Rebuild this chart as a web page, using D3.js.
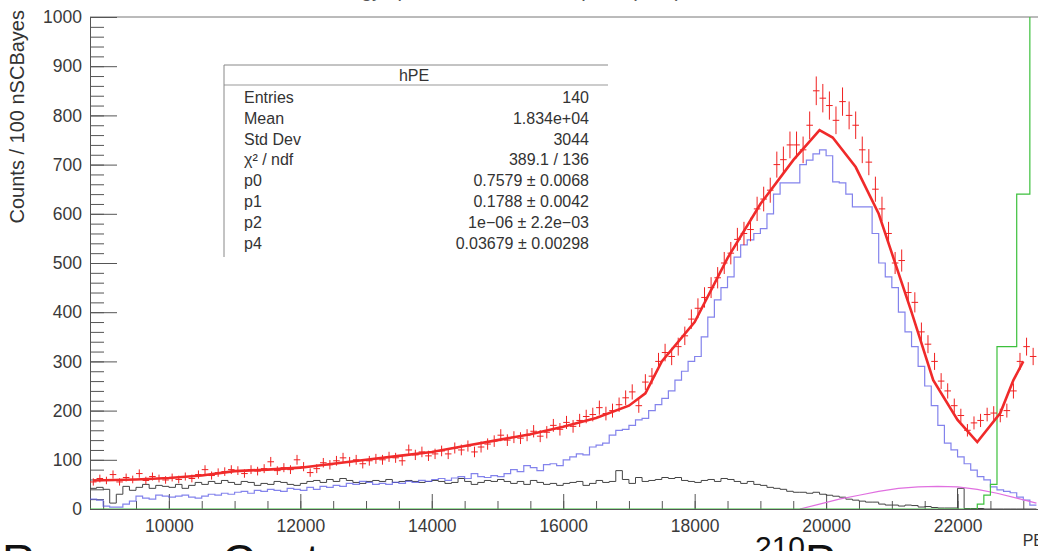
<html>
<head>
  <meta charset="utf-8">
  <title>hPE fit</title>
  <style type="text/css">
    body { margin: 0; background: #fff; }
    svg { display: block; font-family: "Liberation Sans", Arial, sans-serif; }
    .axis text { fill: #3a3a3a; font-size: 17.5px; }
    .axis line, .axis path { stroke: #555; stroke-width: 1; }
    .stat text { fill: #333; font-size: 16px; }
    .frame { fill: none; stroke: #777; stroke-width: 1; }
  </style>
</head>
<body>
<script src="https://d3js.org/d3.v7.min.js"></script>
<script>
  // bins are 100 PE wide, first one starts at 8800
  var binStarts = d3.range(8800, 23200, 100);
  var binWidth = 100;

  // red points (data)
  var dataCounts = [
    55, 62, 58, 70, 55, 64, 60, 72, 58, 66,
    62, 59, 64, 60, 66, 62, 70, 80, 68, 74,
    76, 80, 78, 72, 80, 77, 82, 96, 78, 84,
    80, 100, 86, 74, 82, 94, 90, 98, 104, 96,
    100, 92, 98, 102, 100, 106, 104, 98, 120, 110,
    116, 108, 112, 118, 112, 124, 120, 128, 116, 126,
    132, 138, 150, 140, 146, 144, 150, 158, 148, 156,
    170, 162, 176, 168, 180, 188, 192, 206, 194, 200,
    212, 226, 238, 210, 258, 270, 300, 318, 310, 330,
    352, 386, 408, 430, 450, 470, 500, 520, 548, 560,
    568, 610, 630, 648, 700, 710, 740, 740, 730, 780,
    850, 835, 820, 790, 828, 800, 780, 730, 705, 650,
    610, 560, 500, 505, 440, 420, 360, 335, 300, 260,
    240, 210, 190, 160, 175, 180, 192, 195, 190, 200,
    240, 300, 330, 310
  ];

  // blue: signal component
  var blueCounts = [
    20, 18, 6, 4, 4, 10, 16, 26, 22, 20,
    28, 26, 24, 26, 28, 24, 22, 26, 30, 28,
    32, 30, 34, 36, 32, 38, 36, 40, 38, 36,
    42, 40, 38, 44, 40, 46, 44, 48, 46, 52,
    50, 56, 54, 50, 52, 50, 54, 52, 56, 54,
    58, 56, 60, 62, 58, 63, 66, 62, 72, 66,
    64, 68, 66, 72, 80, 76, 88, 84, 78, 90,
    92, 88, 100, 106, 112, 110, 126, 130, 134, 150,
    160, 162, 170, 181, 184, 200, 212, 225, 240, 262,
    280, 300, 310, 350, 390, 425, 450, 472, 512, 537,
    547, 560, 570, 600, 640, 663, 663, 663, 700, 709,
    722, 730, 718, 665, 663, 640, 614, 614, 614, 560,
    500, 472, 450, 400, 360, 330, 290, 250, 210, 170,
    134, 120, 106, 92, 79, 66, 59, 45, 39, 36,
    33, 24, 18, 8
  ];

  // black: background component
  var blackCounts = [
    42, 44, 40, 12, 30, 46, 38, 44, 50, 42,
    48, 46, 44, 50, 42, 48, 54, 50, 56, 52,
    58, 54, 50, 56, 54, 48, 52, 50, 56, 54,
    50, 48, 52, 56, 58, 54, 60, 56, 62, 58,
    54, 52, 56, 58, 56, 60, 54, 56, 58, 56,
    54, 56, 58, 56, 52, 54, 62, 56, 50, 54,
    58, 56, 60, 56, 52, 56, 50, 58, 54, 50,
    52, 48, 52, 54, 56, 48, 52, 58, 54, 56,
    78, 60, 52, 64, 56, 58, 60, 64, 62, 64,
    58, 56, 54, 58, 60, 56, 62, 60, 56, 52,
    56, 50, 48, 44, 42, 40, 36, 34, 34, 32,
    34, 30, 28, 26, 24, 20, 18, 16, 14, 14,
    10, 8, 8, 6, 8, 7, 4, 5, 3, 2,
    2, 2, 42, 1, 1, 1, 0, 0, 0, 0,
    0, 0, 0, 0
  ];

  // green: first entry is one wide empty bin
  var greenLow = [8800, 22300, 22400, 22500, 22600, 22700, 22800, 22900, 23000, 23100];
  var greenCounts = [0, 10, 28, 50, 330, 330, 330, 640, 640, 1500];

  // magenta curve
  var pinkX = [19600, 19900, 20200, 20500, 20800, 21100, 21400, 21700, 22000, 22300, 22600, 22900, 23200];
  var pinkY = [0, 10, 20, 28, 36, 42, 45, 46, 45, 40, 32, 22, 12];

  // red fit curve
  var fitX = [8850, 9500, 10000, 10500, 11000, 11500, 12000, 12500, 13000, 13500, 14000, 14500,
    15000, 15500, 16000, 16500, 17000, 17250, 17500, 18000, 18500, 19000, 19500, 19900,
    20100, 20450, 20800, 21000, 21300, 21630, 22000, 22300, 22650, 22850, 23000];
  var fitY = [58, 60, 63, 68, 77, 80, 84, 92, 100, 108, 116, 128,
    140, 152, 167, 185, 210, 235, 300, 380, 510, 620, 709, 770,
    755, 695, 600, 520, 400, 262, 181, 136, 195, 262, 300];

  var statLabels = ["Entries", "Mean", "Std Dev", "\u03c7\u00b2 / ndf", "p0", "p1", "p2", "p4"];
  var statValues = ["140", "1.834e+04", "3044", "389.1 / 136", "0.7579 \u00b1 0.0068",
    "0.1788 \u00b1 0.0042", "1e\u221206 \u00b1 2.2e\u221203", "0.03679 \u00b1 0.00298"];

  var W = 1038, H = 551;
  var svg = d3.select("body").append("svg").attr("width", W).attr("height", H);

  var x = d3.scaleLinear().domain([8800, 23300]).range([90, 1043]);
  var y = d3.scaleLinear().domain([0, 1000]).range([509, 17]);

  svg.append("defs").append("clipPath").attr("id", "plot")
    .append("rect").attr("x", 90).attr("y", 17).attr("width", 953).attr("height", 492);

  // title, mostly above the page
  svg.append("text").attr("x", 500).attr("y", -3).attr("text-anchor", "middle")
    .attr("font-size", 20).attr("fill", "#555").text("Energy spectrum of the \u00b2\u00b9\u2070Po peak (hPE)");

  // frame top
  svg.append("line").attr("class", "frame")
    .attr("x1", 90).attr("x2", 1043).attr("y1", 17).attr("y2", 17);

  // y axis
  svg.append("g").attr("class", "axis").attr("transform", "translate(90,0)")
    .call(d3.axisLeft(y).tickValues(d3.range(0, 1001, 100)).tickSize(-27).tickPadding(8)
      .tickFormat(d3.format("d")));
  svg.append("g").attr("class", "axis").attr("transform", "translate(90,0)")
    .call(d3.axisLeft(y).tickValues(d3.range(0, 1001, 20)).tickSize(-14).tickFormat(""))
    .select(".domain").remove();

  // x axis
  svg.append("g").attr("class", "axis").attr("transform", "translate(0,509)")
    .call(d3.axisBottom(x).tickValues(d3.range(10000, 23000, 2000)).tickSize(-15).tickPadding(6)
      .tickFormat(d3.format("d")))
    .selectAll("text").attr("dy", "0.95em");
  svg.append("g").attr("class", "axis").attr("transform", "translate(0,509)")
    .call(d3.axisBottom(x).tickValues(d3.range(9000, 23300, 500)).tickSize(-8).tickFormat(""))
    .select(".domain").remove();

  svg.append("text").attr("transform", "translate(24,10) rotate(-90)")
    .attr("text-anchor", "end").attr("font-size", 20).attr("fill", "#333")
    .text("Counts / 100 nSCBayes");
  svg.append("text").attr("x", 1044).attr("y", 546).attr("text-anchor", "end")
    .attr("font-size", 16).attr("fill", "#333").text("PE");

  var plot = svg.append("g").attr("clip-path", "url(#plot)");

  function stepPoints(lows, counts, width) {
    var pts = lows.map(function (d, i) { return [d, counts[i]]; });
    pts.push([lows[lows.length - 1] + width, counts[counts.length - 1]]);
    return pts;
  }
  var step = d3.line()
    .x(function (d) { return x(d[0]); })
    .y(function (d) { return y(d[1]); })
    .curve(d3.curveStepAfter);
  var smooth = d3.line()
    .x(function (d) { return x(d[0]); })
    .y(function (d) { return y(d[1]); });

  plot.append("path").datum(stepPoints(binStarts, blackCounts, binWidth))
    .attr("d", step).attr("fill", "none").attr("stroke", "#444").attr("stroke-width", 1);

  plot.append("path").datum(stepPoints(binStarts, blueCounts, binWidth))
    .attr("d", step).attr("fill", "none").attr("stroke", "#5a5ae6").attr("stroke-width", 1.2)
    .attr("stroke-opacity", 0.75);

  plot.append("path").datum(pinkX.map(function (d, i) { return [d, pinkY[i]]; }))
    .attr("d", smooth).attr("fill", "none").attr("stroke", "#e070e0").attr("stroke-width", 1.2);

  plot.append("path").datum(stepPoints(greenLow, greenCounts, binWidth))
    .attr("d", step).attr("fill", "none").attr("stroke", "#3cc03c").attr("stroke-width", 1.2);

  // data points with poisson errors
  var pts = plot.append("g").attr("stroke", "#f02020").attr("stroke-width", 1);
  binStarts.forEach(function (b, i) {
    var v = dataCounts[i];
    if (v === undefined) return;
    var e = Math.sqrt(v);
    pts.append("line").attr("x1", x(b)).attr("x2", x(b + binWidth))
      .attr("y1", y(v)).attr("y2", y(v));
    pts.append("line").attr("x1", x(b + binWidth / 2)).attr("x2", x(b + binWidth / 2))
      .attr("y1", y(v - e)).attr("y2", y(v + e));
  });

  plot.append("path").datum(fitX.map(function (d, i) { return [d, fitY[i]]; }))
    .attr("d", smooth).attr("fill", "none").attr("stroke", "#f02a2a").attr("stroke-width", 2.6);

  // stats box
  var st = svg.append("g").attr("class", "stat");
  st.append("line").attr("x1", 224).attr("x2", 608).attr("y1", 65).attr("y2", 65).attr("stroke", "#888");
  st.append("line").attr("x1", 224).attr("x2", 608).attr("y1", 85).attr("y2", 85).attr("stroke", "#999");
  st.append("line").attr("x1", 224).attr("x2", 224).attr("y1", 65).attr("y2", 257).attr("stroke", "#888");
  st.append("text").attr("x", 414).attr("y", 81).attr("text-anchor", "middle").text("hPE");
  statLabels.forEach(function (t, i) {
    st.append("text").attr("x", 244).attr("y", 103 + i * 20.8).text(t);
    st.append("text").attr("x", 589).attr("y", 103 + i * 20.8).attr("text-anchor", "end").text(statValues[i]);
  });

  // slide caption cut by the bottom edge
  var cap = svg.append("g").attr("fill", "#111").attr("font-size", 46);
  cap.append("text").attr("x", 2).attr("y", 577).text("Response Contour: a narrow cone");
  var po = cap.append("text").attr("x", 755).attr("y", 577);
  po.append("tspan").attr("font-size", 30).attr("dy", -20).text("210");
  po.append("tspan").attr("dy", 20).text("Po");
</script>
</body>
</html>
